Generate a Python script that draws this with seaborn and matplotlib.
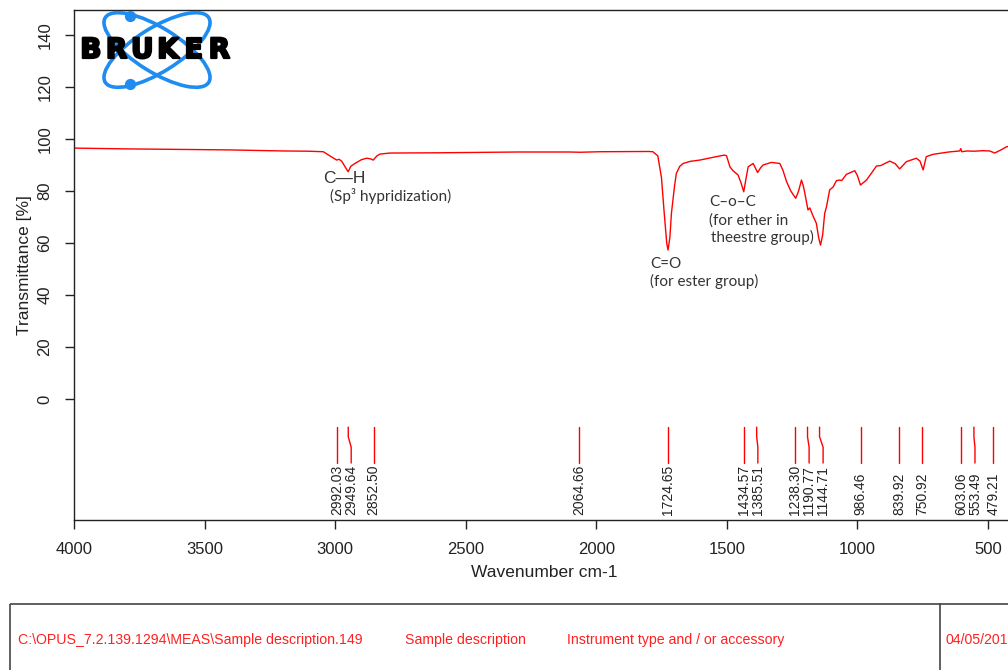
import numpy as np
import pandas as pd
import matplotlib
matplotlib.use("Agg")
import matplotlib.pyplot as plt
import matplotlib.patheffects as pe
from matplotlib.patches import Ellipse, Rectangle
import seaborn as sns

# spectrum (wavenumber cm-1, transmittance %)
wavenumber = [4000, 3800, 3600, 3400, 3200, 3100, 3045, 3020, 2994, 2985, 2975, 2960, 2950,
              2940, 2924, 2900, 2880, 2865, 2854, 2840, 2828, 2790, 2600, 2500, 2300, 2100,
              2064, 1986, 1800, 1783, 1764, 1750, 1740, 1730, 1725, 1718, 1712, 1700, 1693,
              1680, 1667, 1640, 1603, 1550, 1510, 1501, 1488, 1476, 1457, 1445, 1435, 1426,
              1418, 1399, 1382, 1370, 1361, 1329, 1297, 1285, 1271, 1255, 1236, 1225, 1214,
              1207, 1201, 1189, 1182, 1170, 1157, 1148, 1141, 1133, 1125, 1118, 1106, 1093,
              1080, 1067, 1060, 1042, 1010, 1000, 988, 965, 945, 927, 910, 876, 855, 838,
              812, 774, 760, 748, 736, 710, 650, 608, 604, 600, 580, 553, 520, 493, 474,
              450, 429, 400]
transmittance = [96.5, 96.2, 96.0, 95.8, 95.4, 95.3, 95.1, 93.5, 91.9, 92.2, 91.5, 89.0, 87.4,
                 89.5, 90.6, 92.0, 92.6, 92.4, 91.9, 93.5, 94.2, 94.6, 94.7, 94.8, 95.0, 95.0,
                 94.9, 95.1, 95.2, 95.1, 93.5, 85.0, 72.0, 60.0, 57.3, 62.0, 71.4, 82.0, 86.8,
                 89.5, 90.6, 91.4, 91.9, 93.0, 93.8, 93.6, 89.3, 87.8, 86.2, 83.0, 79.7, 85.0,
                 89.3, 90.6, 87.1, 89.0, 90.0, 91.0, 90.6, 88.0, 83.6, 80.0, 77.2, 80.0, 84.2,
                 82.0, 79.1, 72.7, 73.5, 70.5, 67.6, 62.0, 59.2, 63.0, 71.4, 74.0, 80.4, 81.5,
                 84.0, 84.2, 84.0, 86.4, 87.8, 86.0, 82.3, 84.2, 87.0, 89.6, 89.8, 91.5, 90.5, 88.5,
                 91.3, 92.6, 91.5, 88.1, 93.2, 94.1, 95.0, 95.4, 96.3, 95.1, 95.4, 95.3, 95.5, 95.4, 94.6,
                 95.8, 97.0, 97.6]

peaks = [2992.03, 2949.64, 2852.50, 2064.66, 1724.65, 1434.57, 1385.51, 1238.30,
         1190.77, 1144.71, 986.46, 839.92, 750.92, 603.06, 553.49, 479.21]

y_ticks = [0, 20, 40, 60, 80, 100, 120, 140]
x_ticks = [4000, 3500, 3000, 2500, 2000, 1500, 1000, 500]

footer = ["C:\\OPUS_7.2.139.1294\\MEAS\\Sample description.149",
          "Sample description", "Instrument type and / or accessory", "04/05/2014"]

df = pd.DataFrame({"wn": wavenumber, "T": transmittance})

sns.set_theme(style="ticks")
plt.rcParams["font.family"] = ["Liberation Sans", "DejaVu Sans"]

W, H = 1008, 670
fig = plt.figure(figsize=(W / 100, H / 100), dpi=100)
ax = fig.add_axes([74 / W, 1 - 520 / H, (1014 - 74) / W, 510 / H])

sns.lineplot(data=df, x="wn", y="T", color="red", lw=1, sort=False, ax=ax)

# peak pick marks, labels pushed apart when too close (like OPUS does)
gap = 53.6
prev = None
for p in peaks:
    lab = p if prev is None else min(p, prev - gap)
    prev = lab
    ax.plot([p, p, lab, lab], [-10.8, -14.5, -18.5, -24.6], color="red", lw=1)
    ax.text(lab, -44.6, f"{p:.2f}", rotation=90, ha="center", va="bottom",
            fontsize=10, color="#222222")

ax.set_xlim(4000, 400)
ax.set_ylim(-46.5, 149.6)
ax.set_xticks(x_ticks)
ax.set_xticklabels([str(v) for v in x_ticks], fontsize=12)
ax.set_yticks(y_ticks)
ax.set_yticklabels([str(v) for v in y_ticks], fontsize=12, rotation=90, va="center")
ax.tick_params(direction="out", length=6.5, width=1, pad=9, colors="#222222")
ax.set_xlabel("Wavenumber cm-1", fontsize=12.5, color="#222222", labelpad=6)
ax.set_ylabel("Transmittance [%]", fontsize=12.5, color="#222222", labelpad=4)
for s in ["left", "bottom", "top"]:
    ax.spines[s].set_color("#222222")
    ax.spines[s].set_linewidth(1)
ax.spines["right"].set_visible(False)

# band annotations
ann = dict(family=["Lato", "DejaVu Sans"], fontsize=11, color="#333333", ha="left", va="center")
ax.text(3047, 85.0, "C\u2014H", fontsize=12.5, color="#333333", ha="left", va="center")
ax.text(3020, 78.1, "(Sp\u00b3 hypridization)", **ann)
ax.text(1795, 51.9, "C=O", **ann)
ax.text(1795, 45.4, "(for ester group)", **ann)
ax.text(1569, 75.8, "C\u2013o\u2013C", **ann)
ax.text(1569, 68.5, "(for ether in", **ann)
ax.text(1561, 62.1, "theestre group)", **ann)

# overlay in pixel coordinates: logo and footer box
ov = fig.add_axes([0, 0, 1, 1], facecolor="none")
ov.set_xlim(0, W)
ov.set_ylim(H, 0)
ov.axis("off")

blue = "#1e8cf0"
for ang in (32, -32):
    ov.add_patch(Ellipse((157, 50), 122, 44, angle=ang, fill=False, ec=blue, lw=2.6))
ov.scatter([130, 130], [16, 84], s=50, color=blue, zorder=3)
for i, ch in enumerate("BRUKER"):
    ov.text(78 + 25.7 * (i + 0.5), 50, ch, ha="center", va="center", fontsize=20,
            family="DejaVu Sans", weight="heavy", color="black", zorder=4,
            path_effects=[pe.withStroke(linewidth=1.6, foreground="black")])

ov.add_patch(Rectangle((10, 604), 1100, 100, fill=False, ec="#444444", lw=1.2))
ov.plot([940, 940], [604, 700], color="#444444", lw=1.2)
for xx, t in zip([18, 405, 567, 946], footer):
    ov.text(xx, 640, t, ha="left", va="center", fontsize=10.2, color="#ff2020")

fig.savefig("out.png", dpi=100)
